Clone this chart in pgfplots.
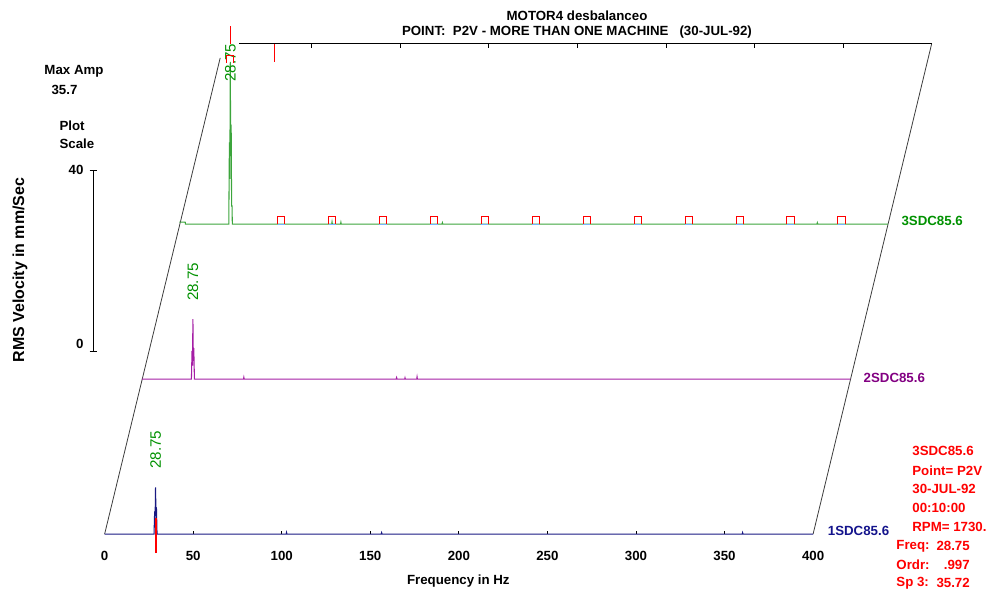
\documentclass[border=0pt]{standalone}
\usepackage{fontspec}
\setmainfont{Liberation Sans}
\usepackage{pgfplots}
\usepackage{pgfplotstable}
\pgfplotsset{compat=1.18}
\definecolor{sgreen}{RGB}{60,165,60}
\definecolor{tgreen}{RGB}{0,145,0}
\definecolor{spurple}{RGB}{165,30,165}
\definecolor{tpurple}{RGB}{130,0,130}
\definecolor{snavy}{RGB}{25,25,130}
\definecolor{tnavy}{RGB}{20,20,140}
\definecolor{lblue}{RGB}{120,180,255}
\definecolor{fgray}{RGB}{60,60,60}
\definecolor{cured}{RGB}{255,0,0}
\pgfdeclareplotmark{cap}{%
 \pgfpathmoveto{\pgfqpoint{-\pgfplotmarksize}{-\pgfplotmarksize}}%
 \pgfpathlineto{\pgfqpoint{-\pgfplotmarksize}{\pgfplotmarksize}}%
 \pgfpathlineto{\pgfqpoint{\pgfplotmarksize}{\pgfplotmarksize}}%
 \pgfpathlineto{\pgfqpoint{\pgfplotmarksize}{-\pgfplotmarksize}}%
 \pgfusepathqstroke}
\pgfplotstableread{
f v
0 0
27.9 0
28.25 5.0
28.5 3
28.75 10.3
29.0 4
29.25 5.9
29.6 0
102.5 0
102.7 0.35
102.9 0
156.2 0
156.4 0.3
156.6 0
360 0
360.2 0.3
360.4 0
400 0
}\specA
\pgfplotstableread{
f v
0 0
27.9 0
28.25 6.2
28.5 3
28.75 13.2
29.0 4
29.25 6.8
29.6 0
57.3 0
57.5 0.4
57.7 0
143.5 0
143.75 0.35
144 0
148.3 0
148.5 0.3
148.7 0
155.1 0
155.3 0.5
155.5 0
400 0
}\specB
\pgfplotstableread{
f v
0 0.45
3.3 0.45
3.4 0
27.9 0
28.25 18.0
28.5 10
28.75 35.72
29.0 15
29.25 21.9
29.5 4
29.75 4
29.9 0
86 0
86.2 0.5
86.4 0
91 0
91.2 0.4
91.4 0
148.3 0
148.5 0.3
148.7 0
360 0
360.2 0.3
360.4 0
400 0
}\specC
\pgfplotstableread{
f v
57.5 0.84
86.25 0.84
115 0.84
143.75 0.84
172.5 0.84
201.25 0.84
230 0.84
258.75 0.84
287.5 0.84
316.25 0.84
345 0.84
373.75 0.84
}\harm
\begin{document}
\begin{tikzpicture}[font=\fontsize{10}{12}\selectfont\bfseries]
\begin{axis}[
  scale only axis, width=743.25pt, height=447.75pt,
  xmin=-59.07, xmax=498.45, ymin=-13.38, ymax=117.54,
  hide axis, clip=false, unbounded coords=jump,
]
\path (axis cs:-59.07,-13.38) rectangle (axis cs:498.45,117.54);
% frame
\addplot[fgray, line width=0.6pt] coordinates {(0,0) (65.26,104.8)};
\addplot[fgray, line width=0.6pt] coordinates {(400,0) (466.95,107.9)};
\addplot[black, line width=0.8pt] coordinates {(75.95,107.9) (466.95,107.9)};
\addplot[black, line width=0.6pt] coordinates {(116.95,107.9) (116.95,107.0) (166.95,nan) (166.95,107.9) (166.95,107.0) (216.95,nan) (216.95,107.9) (216.95,107.0) (266.95,nan) (266.95,107.9) (266.95,107.0) (316.95,nan) (316.95,107.9) (316.95,107.0) (366.95,nan) (366.95,107.9) (366.95,107.0) (416.95,nan) (416.95,107.9) (416.95,107.0)};
\addplot[cured, line width=0.6pt] coordinates {(95.6,107.9) (95.6,103.9)};
% plot scale
\addplot[black, line width=0.7pt] coordinates {(-6.19,80.1) (-6.19,40.13)};
\addplot[black, line width=0.7pt] coordinates {(-8.44,80.1) (-4.5,80.1) (0,nan) (-8.44,40.13) (-4.5,40.13)};
% front ticks
\addplot[black, line width=0.6pt] coordinates {(50,0) (50,0.66) (75,nan) (100,0) (100,0.66) (125,nan) (150,0) (150,0.66) (175,nan) (200,0) (200,0.66) (225,nan) (250,0) (250,0.66) (275,nan) (300,0) (300,0.66) (325,nan) (350,0) (350,0.66)};
% spectrum 1
\addplot[snavy, line width=0.8pt] table[x=f,y=v] {\specA};
\addplot[draw=cured, color=cured, line width=1.1pt] coordinates {(28.9,-4.2) (28.9,0)};
\addplot[draw=cured, color=cured, line width=1.1pt] coordinates {(28.9,0) (28.9,3.5)};
% spectrum 2
\addplot[spurple, line width=0.8pt, x filter/.expression={x+21.1}, y filter/.expression={y+34.1}] table[x=f,y=v] {\specB};
% spectrum 3
\addplot[sgreen, line width=0.8pt, x filter/.expression={x+42.2}, y filter/.expression={y+68.2}] table[x=f,y=v] {\specC};
\addplot[only marks, mark=-, mark size=2.7pt, lblue, line width=0.8pt, x filter/.expression={x+42.2}, y filter/.expression={y+68.2-0.84}] table[x=f,y=v] {\harm};
\addplot[only marks, mark=cap, mark size=2.7pt, cured, line width=0.6pt, x filter/.expression={x+42.2}, y filter/.expression={y+68.2}] table[x=f,y=v] {\harm};
\addplot[only marks, mark=cap, mark size=2.7pt, cured, line width=0.6pt, x filter/.expression={x+42.2}, y filter/.expression={y+68.2}] coordinates {(28.75,36.3)};
\addplot[cured, line width=0.7pt, x filter/.expression={x+42.2}, y filter/.expression={y+68.2}] coordinates {(28.75,39.7) (28.75,43.6)};
% peak labels
\node[rotate=90, text=tgreen, font=\fontsize{11.4}{13}\selectfont\mdseries] at (axis cs:28.75,18.6) {28.75};
\node[rotate=90, text=tgreen, font=\fontsize{11.4}{13}\selectfont\mdseries] at (axis cs:49.85,55.5) {28.75};
\node[rotate=90, text=tgreen, font=\fontsize{11.4}{13}\selectfont\mdseries] at (axis cs:70.95,103.7) {28.75};
% spectrum names
\node[anchor=west, text=tgreen] at (axis cs:447.3,68.9) {3SDC85.6};
\node[anchor=west, text=tpurple] at (axis cs:425.9,34.4) {2SDC85.6};
\node[anchor=west, text=tnavy] at (axis cs:405.7,0.66) {1SDC85.6};
% front tick labels
\node at (axis cs:0,-4.82) {0};
\node at (axis cs:50,-4.82) {50};
\node at (axis cs:100,-4.82) {100};
\node at (axis cs:150,-4.82) {150};
\node at (axis cs:200,-4.82) {200};
\node at (axis cs:250,-4.82) {250};
\node at (axis cs:300,-4.82) {300};
\node at (axis cs:350,-4.82) {350};
\node at (axis cs:400,-4.82) {400};
\node at (axis cs:199.7,-10.3) {Frequency in Hz};
\node[rotate=90, font=\fontsize{12}{14}\selectfont\bfseries] at (axis cs:-47.8,58.1) {RMS Velocity in mm/Sec};
% titles
\node at (axis cs:266.7,114.0) {MOTOR4 desbalanceo};
\node at (axis cs:266.7,110.5) {POINT:\ \ P2V - MORE THAN ONE MACHINE\ \ \ (30-JUL-92)};
% left block
\node[anchor=west] at (axis cs:-36.6,101.75) {Max Amp};
\node[anchor=west] at (axis cs:-32.6,97.8) {35.7};
\node[anchor=west] at (axis cs:-28.1,89.9) {Plot};
\node[anchor=west] at (axis cs:-28.1,86.0) {Scale};
\node[anchor=east] at (axis cs:-9.3,80.1) {40};
\node[anchor=east] at (axis cs:-9.3,41.9) {0};
% info block
\node[anchor=west, text=cured] at (axis cs:453.4,18.2) {3SDC85.6};
\node[anchor=west, text=cured] at (axis cs:453.4,14.04) {Point= P2V};
\node[anchor=west, text=cured] at (axis cs:453.4,9.87) {30-JUL-92};
\node[anchor=west, text=cured] at (axis cs:453.4,5.7) {00:10:00};
\node[anchor=west, text=cured] at (axis cs:453.4,1.54) {RPM= 1730.};
\node[anchor=west, text=cured] at (axis cs:444.4,-2.63) {Freq:};
\node[anchor=west, text=cured] at (axis cs:444.4,-6.8) {Ordr:};
\node[anchor=west, text=cured] at (axis cs:444.4,-10.75) {Sp 3:};
\node[anchor=east, text=cured] at (axis cs:491.1,-2.63) {28.75};
\node[anchor=east, text=cured] at (axis cs:491.1,-6.8) {.997};
\node[anchor=east, text=cured] at (axis cs:491.1,-10.75) {35.72};
\end{axis}
\end{tikzpicture}
\end{document}
